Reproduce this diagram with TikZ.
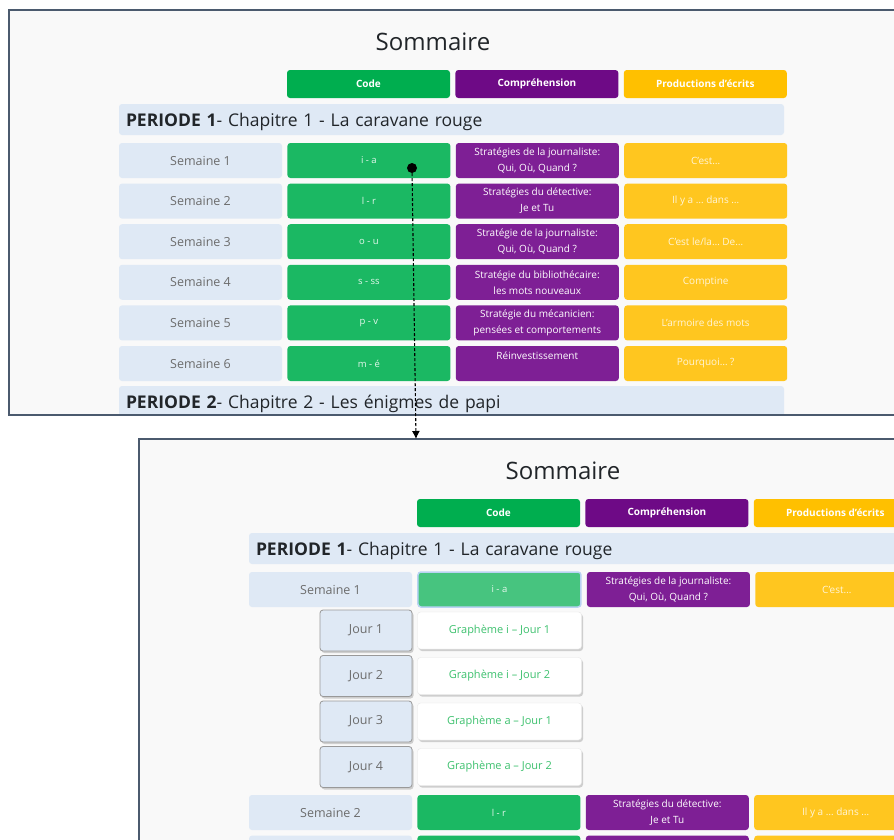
\documentclass[tikz,border=0pt]{standalone}
\usepackage{fontspec}
\setmainfont{Open Sans}
\usetikzlibrary{positioning,arrows.meta,shadows}

\definecolor{pagebg}{HTML}{F9F9F9}
\definecolor{frame}{HTML}{4B5A6E}
\definecolor{codehead}{HTML}{00AE4F}
\definecolor{comphead}{HTML}{6E0A86}
\definecolor{prodhead}{HTML}{FFC000}
\definecolor{paleblue}{HTML}{DFE9F5}
\definecolor{codecell}{HTML}{1BB863}
\definecolor{compcell}{HTML}{7E1F95}
\definecolor{prodcell}{HTML}{FFC61F}
\definecolor{greytext}{HTML}{6C6C6C}
\definecolor{darktext}{HTML}{212529}
\definecolor{graphgreen}{HTML}{3DC16E}
\definecolor{openedcode}{HTML}{47C47F}
\definecolor{focusring}{HTML}{B9D3F3}

\tikzset{
  fenetre/.style={draw=frame, line width=2pt},
  titre/.style={text=darktext, font=\fontsize{24}{28}\selectfont},
  cell/.style={rounded corners=3pt, minimum width=163pt, minimum height=35pt, inner sep=0pt, align=center},
  entete/.style={cell, minimum height=28pt, text=white, font=\fontsize{10}{12}\selectfont\bfseries},
  sem/.style={cell, fill=paleblue, text=greytext, font=\fontsize{12.5}{14}\selectfont},
  codebox/.style={cell, fill=codecell, text=white!88!codecell, font=\fontsize{9.5}{11}\selectfont},
  compbox/.style={cell, fill=compcell, text=white, font=\fontsize{10}{16}\selectfont},
  prodbox/.style={cell, fill=prodcell, text=white!82!prodcell, font=\fontsize{10}{12}\selectfont},
  periode/.style={rounded corners=3pt, fill=paleblue, text width=651pt, inner xsep=7pt, inner ysep=0pt,
    text depth=0pt, minimum height=31pt, align=left, text=darktext, font=\fontsize{17.5}{20}\selectfont},
  jour/.style={rounded corners=3pt, fill=paleblue, draw=gray!80, line width=0.8pt, minimum width=92pt,
    minimum height=41pt, inner sep=0pt, text=greytext, font=\fontsize{12.5}{14}\selectfont,
    drop shadow={shadow xshift=1.5pt, shadow yshift=-2pt, opacity=0.35}},
  graphe/.style={rounded corners=3pt, fill=white, draw=gray!20, minimum width=164pt, minimum height=37pt,
    inner sep=0pt, text=graphgreen, font=\fontsize{11}{13}\selectfont,
    drop shadow={shadow xshift=1.5pt, shadow yshift=-2pt, opacity=0.35}},
}

\begin{document}
\begin{tikzpicture}[x=1pt, y=-1pt]
\clip (0,0) rectangle (894,839);
\fill[white] (0,0) rectangle (894,839);

% sommaire replie
\begin{scope}
\clip (9,10) rectangle (894,415);
\fill[pagebg] (9,10) rectangle (894,415);
\node [titre] (t-titre) at (433,42) {Sommaire};
\node [entete, fill=codehead] (t-code) at (368.5,84) {Code};
\node [entete, fill=comphead, right=5pt of t-code] (t-comp) {Compréhension};
\node [entete, fill=prodhead, right=5pt of t-comp] (t-prod) {Productions d'écrits};
\node [periode] (t-p1) at (451.5,119.5) {\textbf{PERIODE 1}- Chapitre 1 - La caravane rouge};
\foreach \r/\cd/\cp/\pr in {
  1/i - a/{Stratégies de la journaliste:\\Qui, Où, Quand ?}/C'est…,
  2/l - r/{Stratégies du détective:\\Je et Tu}/Il y a … dans …,
  3/o - u/{Stratégie de la journaliste:\\Qui, Où, Quand ?}/{C'est le/la… De…},
  4/s - ss/{Stratégie du bibliothécaire:\\les mots nouveaux}/Comptine,
  5/p - v/{Stratégie du mécanicien:\\pensées et comportements}/L'armoire des mots,
  6/m - é/{Réinvestissement\\\mbox{}}/Pourquoi… ?}{
  \pgfmathsetmacro\y{160.5+(\r-1)*40.6}
  \node [sem] (t-s\r) at (200.5,\y) {Semaine \r};
  \node [codebox, right=5pt of t-s\r] (t-c\r) {\cd};
  \node [compbox, right=5pt of t-c\r] (t-k\r) {\cp};
  \node [prodbox, right=5pt of t-k\r] (t-w\r) {\pr};
}
\node [periode] (t-p2) at (451.5,401.5) {\textbf{PERIODE 2}- Chapitre 2 - Les énigmes de papi};
\end{scope}
\draw [fenetre] (9,10) rectangle (900,415);

% sommaire deplie
\begin{scope}[shift={(130,429)}]
\clip (9,10) rectangle (800,420);
\fill[pagebg] (9,10) rectangle (800,420);
\node [titre] (b-titre) at (433,42) {Sommaire};
\node [entete, fill=codehead] (b-code) at (368.5,84) {Code};
\node [entete, fill=comphead, right=5pt of b-code] (b-comp) {Compréhension};
\node [entete, fill=prodhead, right=5pt of b-comp] (b-prod) {Productions d'écrits};
\node [periode] (b-p1) at (451.5,119.5) {\textbf{PERIODE 1}- Chapitre 1 - La caravane rouge};
\node [sem] (b-s1) at (200.5,160.5) {Semaine 1};
\node [codebox, fill=openedcode, draw=focusring, line width=1.5pt, right=5pt of b-s1] (b-c1) {i - a};
\node [compbox, right=5pt of b-c1] (b-k1) {Stratégies de la journaliste:\\Qui, Où, Quand ?};
\node [prodbox, right=5pt of b-k1] (b-w1) {C'est…};
\foreach \j/\g in {1/Graphème i – Jour 1, 2/Graphème i – Jour 2, 3/Graphème a – Jour 1, 4/Graphème a – Jour 2}{
  \pgfmathsetmacro\y{201.5+(\j-1)*45.5}
  \node [jour] (b-j\j) at (236,\y) {Jour \j};
  \node [graphe] (b-g\j) at (369.5,\y) {\g};
}
\node [sem] (b-s2) at (200.5,383.5) {Semaine 2};
\node [codebox, right=5pt of b-s2] (b-c2) {l - r};
\node [compbox, right=5pt of b-c2] (b-k2) {Stratégies du détective:\\Je et Tu};
\node [prodbox, right=5pt of b-k2] (b-w2) {Il y a … dans …};
\node [sem] (b-s3) at (200.5,424.1) {};
\node [codebox, right=5pt of b-s3] (b-c3) {};
\node [compbox, right=5pt of b-c3] (b-k3) {};
\node [prodbox, right=5pt of b-k3] (b-w3) {};
\end{scope}
\draw [fenetre] (139,439) rectangle (900,845);

% lien entre les deux vues
\node [circle, fill=black, minimum size=10pt, inner sep=0pt] (clic) at (412,168) {};
\coordinate (arrivee) at (416,439);
\draw [line width=1.1pt, dash pattern=on 3pt off 2pt, -{Latex[length=8pt,width=8pt]}] (clic) -- (arrivee);
\end{tikzpicture}
\end{document}
